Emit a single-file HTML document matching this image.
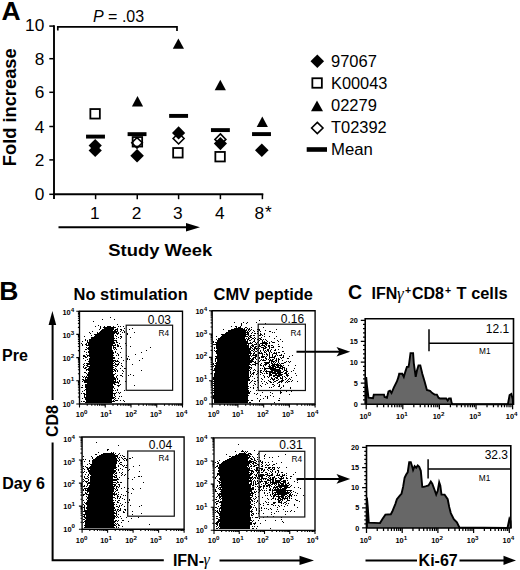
<!DOCTYPE html>
<html><head><meta charset="utf-8"><style>
html,body{margin:0;padding:0;background:#fff;}
svg{display:block;}
text{font-family:"Liberation Sans", sans-serif;fill:#000;}
</style></head><body>
<svg width="520" height="570" viewBox="0 0 520 570">
<rect width="520" height="570" fill="#fff"/>
<text x="1.6" y="19.6" font-size="26.5" font-weight="bold">A</text>
<line x1="54" y1="25.2" x2="54" y2="199" stroke="#000" stroke-width="1.9"/>
<line x1="49.3" y1="26.1" x2="54" y2="26.1" stroke="#000" stroke-width="1.5"/>
<text x="44.3" y="31.4" font-size="17.3" text-anchor="end">10</text>
<line x1="49.3" y1="58.7" x2="54" y2="58.7" stroke="#000" stroke-width="1.5"/>
<text x="44.3" y="64.7" font-size="17.3" text-anchor="end">8</text>
<line x1="49.3" y1="92.3" x2="54" y2="92.3" stroke="#000" stroke-width="1.5"/>
<text x="44.3" y="98.3" font-size="17.3" text-anchor="end">6</text>
<line x1="49.3" y1="126.5" x2="54" y2="126.5" stroke="#000" stroke-width="1.5"/>
<text x="44.3" y="132.5" font-size="17.3" text-anchor="end">4</text>
<line x1="49.3" y1="159.9" x2="54" y2="159.9" stroke="#000" stroke-width="1.5"/>
<text x="44.3" y="165.9" font-size="17.3" text-anchor="end">2</text>
<line x1="49.3" y1="194.3" x2="54" y2="194.3" stroke="#000" stroke-width="1.5"/>
<text x="44.3" y="200.3" font-size="17.3" text-anchor="end">0</text>
<line x1="53" y1="194.2" x2="263.3" y2="194.2" stroke="#000" stroke-width="2"/>
<line x1="95.6" y1="194" x2="95.6" y2="199.2" stroke="#000" stroke-width="1.5"/>
<line x1="137.25" y1="194" x2="137.25" y2="199.2" stroke="#000" stroke-width="1.5"/>
<line x1="178.6" y1="194" x2="178.6" y2="199.2" stroke="#000" stroke-width="1.5"/>
<line x1="220.4" y1="194" x2="220.4" y2="199.2" stroke="#000" stroke-width="1.5"/>
<line x1="262.4" y1="194" x2="262.4" y2="199.2" stroke="#000" stroke-width="1.5"/>
<text x="94.9" y="218.7" font-size="17.3" text-anchor="middle">1</text>
<text x="136.55" y="218.7" font-size="17.3" text-anchor="middle">2</text>
<text x="177.9" y="218.7" font-size="17.3" text-anchor="middle">3</text>
<text x="219.7" y="218.7" font-size="17.3" text-anchor="middle">4</text>
<text x="254.5" y="218.9" font-size="17.3">8<tspan dx="0.8" dy="-0.9">*</tspan></text>
<line x1="58.5" y1="227.2" x2="188" y2="227.2" stroke="#000" stroke-width="2"/>
<path d="M186 222.9 L200 227.2 L186 231.5 Z" fill="#000"/>
<text x="108.3" y="256.2" font-size="17.2" font-weight="bold" textLength="104" lengthAdjust="spacingAndGlyphs">Study Week</text>
<text transform="translate(16.3,166.2) rotate(-90)" font-size="18.3" font-weight="bold">Fold increase</text>
<path d="M57.8 30.6 V26.8 H177 V31" fill="none" stroke="#000" stroke-width="1.7"/>
<text x="93" y="22.4" font-size="16"><tspan font-style="italic">P</tspan> = .03</text>
<rect x="90.35" y="109.05" width="9.5" height="9.5" fill="#fff" stroke="#000" stroke-width="1.8"/>
<rect x="86.05" y="134.65" width="18.9" height="3.9" fill="#000"/>
<path d="M95.2 139 L101.8 145.6 L95.2 152.2 L88.6 145.6 Z" fill="#000"/>
<path d="M95.2 143.9 L101.8 150.5 L95.2 157.1 L88.6 150.5 Z" fill="#000"/>
<path d="M137.5 96.1 L143.1 106.6 L131.9 106.6 Z" fill="#000"/>
<rect x="127.6" y="132.2" width="18.9" height="3.9" fill="#000"/>
<rect x="132.65" y="137.05" width="9.5" height="9.5" fill="#fff" stroke="#000" stroke-width="1.8"/>
<path d="M137 137.6 L142.3 142.7 L137 148 L131.8 142.7 Z" fill="none" stroke="#000" stroke-width="1.6"/>
<path d="M137.1 148.9 L143.9 155.7 L137.1 162.5 L130.3 155.7 Z" fill="#000"/>
<path d="M178.4 38.4 L184 48.75 L172.8 48.75 Z" fill="#000"/>
<rect x="169.15" y="113.95" width="18.9" height="3.9" fill="#000"/>
<path d="M178.6 133.02 L184.08 138.5 L178.6 143.98 L173.12 138.5 Z" fill="#fff" stroke="#000" stroke-width="1.6"/>
<path d="M178.6 126.3 L185.2 132.9 L178.6 139.5 L172 132.9 Z" fill="#000"/>
<rect x="173.15" y="148.05" width="9.5" height="9.5" fill="#fff" stroke="#000" stroke-width="1.8"/>
<path d="M220.3 79.7 L225.9 90.3 L214.7 90.3 Z" fill="#000"/>
<rect x="210.95" y="128.15" width="18.9" height="3.9" fill="#000"/>
<path d="M220.4 133.92 L225.88 139.4 L220.4 144.88 L214.92 139.4 Z" fill="#fff" stroke="#000" stroke-width="1.6"/>
<path d="M220.4 137 L227 143.6 L220.4 150.2 L213.8 143.6 Z" fill="#000"/>
<rect x="215.35" y="151.95" width="9.5" height="9.5" fill="#fff" stroke="#000" stroke-width="1.8"/>
<path d="M262.3 116.6 L267.9 126.9 L256.7 126.9 Z" fill="#000"/>
<rect x="252.05" y="132.15" width="18.9" height="3.9" fill="#000"/>
<path d="M261.8 143.4 L268.6 150.2 L261.8 157 L255 150.2 Z" fill="#000"/>
<path d="M317.3 54.4 L324.1 61.2 L317.3 68 L310.5 61.2 Z" fill="#000"/>
<text x="331" y="66.9" font-size="16" textLength="45.9" lengthAdjust="spacingAndGlyphs">97067</text>
<rect x="312.35" y="78.25" width="9.5" height="9.5" fill="#fff" stroke="#000" stroke-width="1.8"/>
<text x="331" y="88.6" font-size="16" textLength="56.4" lengthAdjust="spacingAndGlyphs">K00043</text>
<path d="M317 100.6 L323 111.2 L311 111.2 Z" fill="#000"/>
<text x="331" y="110.9" font-size="16" textLength="45.9" lengthAdjust="spacingAndGlyphs">02279</text>
<path d="M317.3 122.32 L322.98 128 L317.3 133.68 L311.62 128 Z" fill="#fff" stroke="#000" stroke-width="1.6"/>
<text x="331" y="132.9" font-size="16" textLength="55.7" lengthAdjust="spacingAndGlyphs">T02392</text>
<rect x="306.7" y="147.2" width="20.3" height="4.6" fill="#000"/>
<text x="331" y="155.4" font-size="16" textLength="41.8" lengthAdjust="spacingAndGlyphs">Mean</text>
<text x="-0.7" y="299.9" font-size="26.5" font-weight="bold">B</text>
<text x="73.5" y="300" font-size="16" font-weight="bold" textLength="114.2" lengthAdjust="spacingAndGlyphs">No stimulation</text>
<text x="213.6" y="299.8" font-size="16" font-weight="bold" textLength="99.3" lengthAdjust="spacingAndGlyphs">CMV peptide</text>
<text x="2" y="361.3" font-size="16" font-weight="bold">Pre</text>
<text x="2.3" y="488.6" font-size="16" font-weight="bold">Day 6</text>
<path d="M52.4 311 L56.2 325 L48.6 325 Z" fill="#000"/>
<line x1="52.6" y1="323" x2="52.6" y2="400" stroke="#000" stroke-width="2"/>
<text transform="translate(58.3,437) rotate(-90)" font-size="16" font-weight="bold">CD8</text>
<path d="M52.6 442.6 V560.3 H163.8" fill="none" stroke="#000" stroke-width="2"/>
<text x="172.9" y="565.6" font-size="16" font-weight="bold">IFN-</text>
<text x="203.4" y="565.2" font-size="16" font-style="italic" style="font-family:'Liberation Serif', serif">&#947;</text>
<line x1="219.5" y1="560.4" x2="302" y2="560.4" stroke="#000" stroke-width="2"/>
<path d="M299.5 555.8 L314 560.4 L299.5 565 Z" fill="#000"/>
<text x="348" y="298.7" font-size="19.5" font-weight="bold">C</text>
<text x="371.5" y="299.2" font-size="16" font-weight="bold">IFN</text>
<text x="397.1" y="298.5" font-size="17" font-family="Liberation Serif" font-style="italic" style="font-family:'Liberation Serif', serif">&#947;</text>
<text x="404.9" y="293.6" font-size="10.5" font-weight="bold">+</text>
<text x="411.9" y="299.3" font-size="16" font-weight="bold">CD8</text>
<text x="444.9" y="293.6" font-size="10.5" font-weight="bold">+</text>
<text x="456.6" y="299.3" font-size="16" font-weight="bold" textLength="51" lengthAdjust="spacingAndGlyphs">T cells</text>
<line x1="365.5" y1="560.4" x2="417" y2="560.4" stroke="#000" stroke-width="2"/>
<text x="418.6" y="565.8" font-size="16" font-weight="bold">Ki-67</text>
<line x1="459.5" y1="560.4" x2="506" y2="560.4" stroke="#000" stroke-width="2"/>
<path d="M503.5 555.8 L516 560.4 L503.5 565 Z" fill="#000"/>
<line x1="296.5" y1="351.8" x2="340" y2="351.8" stroke="#000" stroke-width="2"/>
<path d="M350.2 351.8 L336.5 347 L339.5 351.8 L336.5 356.6 Z" fill="#000"/>
<line x1="296.5" y1="478.9" x2="340" y2="478.9" stroke="#000" stroke-width="2"/>
<path d="M350.2 478.9 L336.5 474.1 L339.5 478.9 L336.5 483.7 Z" fill="#000"/>
<path d="M110 317h1v1h-1zM102 319h1v1h-1zM114 319h1v1h-1zM93 321h1v1h-1zM117 324h1v1h-1zM98 325h1v1h-1zM95 326h1v1h-1zM100 326h1v1h-1zM104 326h1v1h-1zM107 326h4v1h-4zM113 326h1v1h-1zM118 326h1v1h-1zM120 326h1v1h-1zM123 326h1v1h-1zM100 327h1v1h-1zM103 327h13v1h-13zM100 328h1v1h-1zM104 328h10v1h-10zM117 328h1v1h-1zM124 328h1v1h-1zM132 328h1v1h-1zM99 329h1v1h-1zM102 329h12v1h-12zM115 329h3v1h-3zM120 329h2v1h-2zM129 329h1v1h-1zM101 330h12v1h-12zM114 330h2v1h-2zM117 330h1v1h-1zM121 330h1v1h-1zM123 330h1v1h-1zM92 331h1v1h-1zM100 331h18v1h-18zM120 331h1v1h-1zM124 331h1v1h-1zM89 332h1v1h-1zM97 332h1v1h-1zM99 332h18v1h-18zM118 332h1v1h-1zM122 332h1v1h-1zM124 332h1v1h-1zM134 332h1v1h-1zM90 333h1v1h-1zM97 333h18v1h-18zM116 333h3v1h-3zM127 333h1v1h-1zM94 334h20v1h-20zM117 334h1v1h-1zM120 334h1v1h-1zM127 334h1v1h-1zM91 335h1v1h-1zM95 335h19v1h-19zM115 335h1v1h-1zM84 336h1v1h-1zM94 336h20v1h-20zM116 336h1v1h-1zM120 336h2v1h-2zM91 337h23v1h-23zM118 337h1v1h-1zM121 337h1v1h-1zM130 337h1v1h-1zM91 338h24v1h-24zM116 338h1v1h-1zM120 338h1v1h-1zM85 339h1v1h-1zM89 339h25v1h-25zM85 340h1v1h-1zM87 340h1v1h-1zM89 340h28v1h-28zM82 341h1v1h-1zM87 341h1v1h-1zM89 341h25v1h-25zM116 341h1v1h-1zM87 342h28v1h-28zM116 342h2v1h-2zM81 343h1v1h-1zM86 343h1v1h-1zM88 343h27v1h-27zM119 343h1v1h-1zM125 343h1v1h-1zM82 344h1v1h-1zM85 344h2v1h-2zM88 344h25v1h-25zM115 344h1v1h-1zM117 344h1v1h-1zM82 345h1v1h-1zM86 345h30v1h-30zM117 345h2v1h-2zM126 345h1v1h-1zM89 346h23v1h-23zM113 346h1v1h-1zM117 346h2v1h-2zM120 346h1v1h-1zM130 346h1v1h-1zM86 347h1v1h-1zM88 347h24v1h-24zM113 347h3v1h-3zM150 347h1v1h-1zM87 348h25v1h-25zM113 348h1v1h-1zM115 348h1v1h-1zM121 348h1v1h-1zM85 349h2v1h-2zM88 349h24v1h-24zM114 349h1v1h-1zM116 349h1v1h-1zM89 350h24v1h-24zM146 350h1v1h-1zM84 351h1v1h-1zM88 351h25v1h-25zM115 351h1v1h-1zM86 352h1v1h-1zM88 352h26v1h-26zM115 352h1v1h-1zM120 352h1v1h-1zM141 352h1v1h-1zM89 353h25v1h-25zM117 353h1v1h-1zM86 354h1v1h-1zM89 354h24v1h-24zM118 354h1v1h-1zM135 354h1v1h-1zM83 355h2v1h-2zM87 355h27v1h-27zM116 355h1v1h-1zM118 355h1v1h-1zM126 355h1v1h-1zM83 356h3v1h-3zM87 356h1v1h-1zM89 356h24v1h-24zM128 356h1v1h-1zM85 357h2v1h-2zM90 357h25v1h-25zM121 357h1v1h-1zM83 358h1v1h-1zM89 358h26v1h-26zM118 358h1v1h-1zM127 358h1v1h-1zM142 358h1v1h-1zM87 359h1v1h-1zM89 359h24v1h-24zM127 359h1v1h-1zM129 359h1v1h-1zM85 360h1v1h-1zM89 360h27v1h-27zM117 360h1v1h-1zM123 360h1v1h-1zM139 360h1v1h-1zM88 361h26v1h-26zM115 361h4v1h-4zM126 361h1v1h-1zM89 362h24v1h-24zM114 362h1v1h-1zM119 362h1v1h-1zM84 363h1v1h-1zM86 363h28v1h-28zM115 363h1v1h-1zM118 363h1v1h-1zM121 363h1v1h-1zM83 364h1v1h-1zM87 364h26v1h-26zM115 364h4v1h-4zM132 364h1v1h-1zM84 365h1v1h-1zM86 365h2v1h-2zM90 365h25v1h-25zM117 365h1v1h-1zM121 365h1v1h-1zM83 366h1v1h-1zM87 366h26v1h-26zM115 366h2v1h-2zM122 366h1v1h-1zM83 367h1v1h-1zM85 367h2v1h-2zM89 367h25v1h-25zM84 368h2v1h-2zM88 368h25v1h-25zM115 368h1v1h-1zM120 368h1v1h-1zM124 368h2v1h-2zM86 369h29v1h-29zM116 369h1v1h-1zM86 370h1v1h-1zM88 370h25v1h-25zM114 370h2v1h-2zM117 370h1v1h-1zM122 370h1v1h-1zM141 370h1v1h-1zM89 371h25v1h-25zM115 371h1v1h-1zM117 371h1v1h-1zM123 371h1v1h-1zM84 372h2v1h-2zM88 372h25v1h-25zM86 373h1v1h-1zM88 373h25v1h-25zM115 373h1v1h-1zM122 373h1v1h-1zM87 374h28v1h-28zM130 374h1v1h-1zM87 375h27v1h-27zM117 375h1v1h-1zM120 375h2v1h-2zM128 375h1v1h-1zM133 375h1v1h-1zM82 376h1v1h-1zM84 376h1v1h-1zM86 376h1v1h-1zM88 376h26v1h-26zM116 376h1v1h-1zM122 376h1v1h-1zM83 377h1v1h-1zM85 377h30v1h-30zM116 377h1v1h-1zM85 378h1v1h-1zM87 378h29v1h-29zM117 378h1v1h-1zM82 379h2v1h-2zM85 379h31v1h-31zM117 379h1v1h-1zM83 380h31v1h-31zM115 380h1v1h-1zM119 380h1v1h-1zM82 381h1v1h-1zM84 381h32v1h-32zM117 381h1v1h-1zM119 381h1v1h-1zM125 381h1v1h-1zM84 382h35v1h-35zM87 383h28v1h-28zM118 383h1v1h-1zM85 384h28v1h-28zM114 384h2v1h-2zM120 384h1v1h-1zM82 385h1v1h-1zM85 385h28v1h-28zM117 385h3v1h-3zM134 385h1v1h-1zM85 386h29v1h-29zM118 386h1v1h-1zM81 387h2v1h-2zM85 387h29v1h-29zM86 388h27v1h-27zM114 388h1v1h-1zM85 389h28v1h-28zM117 389h1v1h-1zM84 390h1v1h-1zM86 390h28v1h-28zM115 390h1v1h-1zM117 390h1v1h-1zM124 390h1v1h-1zM82 391h1v1h-1zM86 391h27v1h-27zM86 392h27v1h-27zM116 392h1v1h-1zM118 392h1v1h-1zM120 392h1v1h-1zM81 393h1v1h-1zM83 393h2v1h-2zM86 393h30v1h-30zM119 393h1v1h-1zM84 394h29v1h-29zM114 394h1v1h-1zM84 395h1v1h-1zM86 395h27v1h-27zM114 395h1v1h-1zM84 396h1v1h-1zM86 396h27v1h-27zM115 396h1v1h-1zM119 396h1v1h-1zM121 396h1v1h-1zM84 397h31v1h-31zM82 398h1v1h-1zM85 398h29v1h-29zM115 398h1v1h-1zM118 398h1v1h-1zM85 399h27v1h-27zM114 399h1v1h-1zM86 400h26v1h-26zM113 400h1v1h-1zM115 400h3v1h-3zM120 400h1v1h-1zM123 400h1v1h-1zM81 401h1v1h-1zM83 401h2v1h-2zM86 401h29v1h-29zM124 401h1v1h-1zM85 402h27v1h-27z" fill="#000"/>
<path d="M259 320h1v1h-1zM234 322h1v1h-1zM243 322h1v1h-1zM247 322h1v1h-1zM256 322h1v1h-1zM241 323h1v1h-1zM246 323h1v1h-1zM265 323h1v1h-1zM241 324h1v1h-1zM241 325h1v1h-1zM231 326h1v1h-1zM235 326h2v1h-2zM240 326h1v1h-1zM236 327h1v1h-1zM238 327h3v1h-3zM245 327h2v1h-2zM251 327h1v1h-1zM263 327h1v1h-1zM234 328h9v1h-9zM244 328h1v1h-1zM247 328h1v1h-1zM249 328h1v1h-1zM223 329h1v1h-1zM231 329h14v1h-14zM246 329h1v1h-1zM248 329h2v1h-2zM251 329h1v1h-1zM257 329h3v1h-3zM276 329h1v1h-1zM228 330h19v1h-19zM248 330h1v1h-1zM250 330h1v1h-1zM253 330h1v1h-1zM259 330h1v1h-1zM265 330h1v1h-1zM228 331h18v1h-18zM247 331h1v1h-1zM249 331h1v1h-1zM254 331h1v1h-1zM257 331h1v1h-1zM260 331h1v1h-1zM269 331h2v1h-2zM226 332h23v1h-23zM252 332h1v1h-1zM272 332h1v1h-1zM274 332h1v1h-1zM225 333h21v1h-21zM247 333h2v1h-2zM251 333h1v1h-1zM254 333h2v1h-2zM257 333h1v1h-1zM260 333h1v1h-1zM264 333h1v1h-1zM221 334h28v1h-28zM260 334h2v1h-2zM264 334h1v1h-1zM222 335h24v1h-24zM248 335h1v1h-1zM250 335h2v1h-2zM253 335h2v1h-2zM259 335h2v1h-2zM262 335h1v1h-1zM216 336h1v1h-1zM221 336h27v1h-27zM249 336h2v1h-2zM264 336h1v1h-1zM269 336h1v1h-1zM276 336h1v1h-1zM220 337h25v1h-25zM248 337h1v1h-1zM250 337h2v1h-2zM254 337h1v1h-1zM261 337h1v1h-1zM218 338h27v1h-27zM246 338h1v1h-1zM248 338h2v1h-2zM252 338h2v1h-2zM255 338h1v1h-1zM259 338h2v1h-2zM274 338h1v1h-1zM216 339h1v1h-1zM218 339h28v1h-28zM247 339h2v1h-2zM251 339h1v1h-1zM254 339h1v1h-1zM257 339h2v1h-2zM260 339h2v1h-2zM263 339h1v1h-1zM265 339h1v1h-1zM280 339h1v1h-1zM217 340h29v1h-29zM247 340h1v1h-1zM249 340h2v1h-2zM254 340h1v1h-1zM259 340h1v1h-1zM262 340h1v1h-1zM266 340h1v1h-1zM277 340h1v1h-1zM213 341h1v1h-1zM217 341h31v1h-31zM253 341h2v1h-2zM258 341h1v1h-1zM262 341h1v1h-1zM264 341h1v1h-1zM267 341h1v1h-1zM271 341h1v1h-1zM278 341h1v1h-1zM282 341h1v1h-1zM213 342h1v1h-1zM215 342h33v1h-33zM250 342h1v1h-1zM252 342h1v1h-1zM255 342h1v1h-1zM257 342h1v1h-1zM262 342h5v1h-5zM269 342h1v1h-1zM272 342h3v1h-3zM216 343h36v1h-36zM256 343h1v1h-1zM260 343h8v1h-8zM269 343h1v1h-1zM213 344h34v1h-34zM248 344h1v1h-1zM252 344h1v1h-1zM254 344h3v1h-3zM259 344h1v1h-1zM262 344h1v1h-1zM265 344h2v1h-2zM278 344h1v1h-1zM216 345h33v1h-33zM251 345h3v1h-3zM259 345h1v1h-1zM261 345h4v1h-4zM266 345h1v1h-1zM268 345h2v1h-2zM271 345h2v1h-2zM216 346h33v1h-33zM250 346h1v1h-1zM252 346h2v1h-2zM255 346h2v1h-2zM258 346h3v1h-3zM264 346h2v1h-2zM268 346h2v1h-2zM273 346h1v1h-1zM278 346h2v1h-2zM214 347h1v1h-1zM216 347h33v1h-33zM250 347h2v1h-2zM254 347h2v1h-2zM258 347h1v1h-1zM261 347h3v1h-3zM265 347h2v1h-2zM269 347h1v1h-1zM271 347h3v1h-3zM282 347h1v1h-1zM214 348h1v1h-1zM216 348h35v1h-35zM252 348h1v1h-1zM254 348h4v1h-4zM259 348h1v1h-1zM263 348h3v1h-3zM269 348h1v1h-1zM217 349h34v1h-34zM253 349h2v1h-2zM256 349h1v1h-1zM258 349h1v1h-1zM263 349h1v1h-1zM267 349h2v1h-2zM271 349h1v1h-1zM275 349h1v1h-1zM278 349h1v1h-1zM214 350h1v1h-1zM216 350h34v1h-34zM251 350h2v1h-2zM254 350h1v1h-1zM257 350h1v1h-1zM260 350h1v1h-1zM263 350h1v1h-1zM265 350h1v1h-1zM267 350h2v1h-2zM270 350h1v1h-1zM274 350h2v1h-2zM215 351h36v1h-36zM253 351h1v1h-1zM255 351h2v1h-2zM260 351h1v1h-1zM264 351h1v1h-1zM266 351h1v1h-1zM268 351h1v1h-1zM270 351h1v1h-1zM282 351h2v1h-2zM216 352h35v1h-35zM254 352h1v1h-1zM258 352h2v1h-2zM261 352h1v1h-1zM264 352h2v1h-2zM269 352h1v1h-1zM271 352h1v1h-1zM274 352h1v1h-1zM276 352h1v1h-1zM278 352h2v1h-2zM216 353h36v1h-36zM253 353h2v1h-2zM258 353h5v1h-5zM266 353h1v1h-1zM269 353h1v1h-1zM273 353h4v1h-4zM284 353h1v1h-1zM217 354h32v1h-32zM250 354h1v1h-1zM253 354h1v1h-1zM255 354h2v1h-2zM262 354h1v1h-1zM264 354h1v1h-1zM266 354h2v1h-2zM269 354h1v1h-1zM272 354h1v1h-1zM276 354h1v1h-1zM281 354h1v1h-1zM217 355h34v1h-34zM252 355h5v1h-5zM258 355h1v1h-1zM262 355h1v1h-1zM267 355h1v1h-1zM269 355h1v1h-1zM272 355h1v1h-1zM275 355h1v1h-1zM277 355h1v1h-1zM279 355h3v1h-3zM283 355h1v1h-1zM292 355h1v1h-1zM215 356h35v1h-35zM251 356h1v1h-1zM255 356h2v1h-2zM261 356h4v1h-4zM266 356h1v1h-1zM269 356h1v1h-1zM272 356h1v1h-1zM274 356h2v1h-2zM283 356h1v1h-1zM289 356h1v1h-1zM216 357h34v1h-34zM253 357h3v1h-3zM259 357h1v1h-1zM261 357h3v1h-3zM265 357h1v1h-1zM269 357h6v1h-6zM280 357h1v1h-1zM282 357h2v1h-2zM215 358h36v1h-36zM252 358h2v1h-2zM255 358h1v1h-1zM259 358h1v1h-1zM265 358h2v1h-2zM269 358h1v1h-1zM274 358h1v1h-1zM276 358h1v1h-1zM278 358h1v1h-1zM281 358h1v1h-1zM287 358h2v1h-2zM215 359h1v1h-1zM217 359h33v1h-33zM251 359h3v1h-3zM256 359h1v1h-1zM261 359h1v1h-1zM263 359h1v1h-1zM266 359h1v1h-1zM268 359h1v1h-1zM270 359h1v1h-1zM272 359h2v1h-2zM276 359h1v1h-1zM278 359h2v1h-2zM215 360h1v1h-1zM217 360h36v1h-36zM258 360h1v1h-1zM260 360h1v1h-1zM262 360h4v1h-4zM269 360h4v1h-4zM275 360h2v1h-2zM278 360h1v1h-1zM282 360h1v1h-1zM215 361h1v1h-1zM217 361h37v1h-37zM255 361h1v1h-1zM259 361h1v1h-1zM269 361h1v1h-1zM271 361h4v1h-4zM276 361h1v1h-1zM278 361h1v1h-1zM286 361h1v1h-1zM288 361h1v1h-1zM290 361h1v1h-1zM216 362h36v1h-36zM254 362h2v1h-2zM258 362h1v1h-1zM264 362h6v1h-6zM271 362h1v1h-1zM273 362h1v1h-1zM275 362h1v1h-1zM278 362h1v1h-1zM284 362h2v1h-2zM289 362h1v1h-1zM213 363h1v1h-1zM215 363h35v1h-35zM255 363h3v1h-3zM261 363h1v1h-1zM265 363h4v1h-4zM271 363h2v1h-2zM274 363h1v1h-1zM277 363h1v1h-1zM279 363h1v1h-1zM281 363h3v1h-3zM213 364h1v1h-1zM216 364h35v1h-35zM252 364h4v1h-4zM258 364h1v1h-1zM260 364h1v1h-1zM264 364h3v1h-3zM269 364h1v1h-1zM272 364h7v1h-7zM280 364h1v1h-1zM214 365h35v1h-35zM251 365h1v1h-1zM255 365h1v1h-1zM260 365h2v1h-2zM263 365h1v1h-1zM265 365h1v1h-1zM269 365h1v1h-1zM271 365h4v1h-4zM276 365h6v1h-6zM283 365h1v1h-1zM288 365h1v1h-1zM295 365h1v1h-1zM213 366h1v1h-1zM215 366h35v1h-35zM263 366h1v1h-1zM268 366h3v1h-3zM272 366h4v1h-4zM277 366h2v1h-2zM280 366h3v1h-3zM215 367h37v1h-37zM264 367h1v1h-1zM269 367h5v1h-5zM275 367h6v1h-6zM282 367h3v1h-3zM214 368h36v1h-36zM251 368h1v1h-1zM260 368h1v1h-1zM262 368h1v1h-1zM264 368h12v1h-12zM279 368h4v1h-4zM284 368h1v1h-1zM286 368h1v1h-1zM294 368h1v1h-1zM214 369h35v1h-35zM250 369h1v1h-1zM254 369h1v1h-1zM264 369h2v1h-2zM270 369h10v1h-10zM282 369h1v1h-1zM284 369h1v1h-1zM286 369h1v1h-1zM213 370h37v1h-37zM253 370h1v1h-1zM255 370h1v1h-1zM258 370h1v1h-1zM260 370h2v1h-2zM264 370h1v1h-1zM266 370h1v1h-1zM271 370h10v1h-10zM284 370h3v1h-3zM293 370h1v1h-1zM215 371h34v1h-34zM250 371h1v1h-1zM257 371h1v1h-1zM260 371h1v1h-1zM263 371h1v1h-1zM265 371h8v1h-8zM274 371h7v1h-7zM283 371h1v1h-1zM286 371h2v1h-2zM291 371h1v1h-1zM215 372h34v1h-34zM250 372h1v1h-1zM253 372h2v1h-2zM258 372h1v1h-1zM260 372h2v1h-2zM266 372h1v1h-1zM269 372h7v1h-7zM277 372h6v1h-6zM285 372h2v1h-2zM214 373h35v1h-35zM250 373h1v1h-1zM252 373h2v1h-2zM257 373h1v1h-1zM262 373h1v1h-1zM264 373h1v1h-1zM266 373h2v1h-2zM269 373h2v1h-2zM272 373h9v1h-9zM284 373h3v1h-3zM288 373h1v1h-1zM295 373h1v1h-1zM214 374h35v1h-35zM251 374h1v1h-1zM253 374h1v1h-1zM256 374h1v1h-1zM260 374h1v1h-1zM269 374h3v1h-3zM275 374h2v1h-2zM278 374h5v1h-5zM286 374h2v1h-2zM214 375h35v1h-35zM250 375h1v1h-1zM263 375h1v1h-1zM269 375h3v1h-3zM273 375h9v1h-9zM286 375h3v1h-3zM296 375h1v1h-1zM214 376h35v1h-35zM250 376h1v1h-1zM252 376h1v1h-1zM264 376h1v1h-1zM267 376h1v1h-1zM269 376h1v1h-1zM273 376h2v1h-2zM277 376h3v1h-3zM282 376h1v1h-1zM284 376h1v1h-1zM287 376h1v1h-1zM213 377h37v1h-37zM257 377h1v1h-1zM264 377h1v1h-1zM268 377h1v1h-1zM271 377h1v1h-1zM275 377h3v1h-3zM280 377h1v1h-1zM282 377h1v1h-1zM285 377h1v1h-1zM291 377h1v1h-1zM213 378h36v1h-36zM254 378h1v1h-1zM261 378h1v1h-1zM271 378h2v1h-2zM274 378h1v1h-1zM276 378h2v1h-2zM280 378h3v1h-3zM286 378h1v1h-1zM289 378h1v1h-1zM213 379h37v1h-37zM262 379h1v1h-1zM270 379h1v1h-1zM272 379h3v1h-3zM278 379h1v1h-1zM282 379h1v1h-1zM285 379h1v1h-1zM288 379h1v1h-1zM290 379h1v1h-1zM214 380h36v1h-36zM252 380h1v1h-1zM257 380h1v1h-1zM268 380h1v1h-1zM273 380h1v1h-1zM276 380h2v1h-2zM281 380h3v1h-3zM287 380h1v1h-1zM292 380h1v1h-1zM213 381h35v1h-35zM251 381h1v1h-1zM254 381h2v1h-2zM261 381h1v1h-1zM264 381h1v1h-1zM269 381h2v1h-2zM274 381h2v1h-2zM279 381h4v1h-4zM286 381h1v1h-1zM288 381h2v1h-2zM291 381h1v1h-1zM297 381h1v1h-1zM214 382h34v1h-34zM250 382h1v1h-1zM258 382h1v1h-1zM266 382h1v1h-1zM270 382h2v1h-2zM273 382h1v1h-1zM278 382h2v1h-2zM281 382h1v1h-1zM285 382h1v1h-1zM287 382h1v1h-1zM213 383h35v1h-35zM249 383h1v1h-1zM254 383h1v1h-1zM262 383h1v1h-1zM267 383h1v1h-1zM277 383h1v1h-1zM214 384h34v1h-34zM255 384h1v1h-1zM265 384h1v1h-1zM272 384h2v1h-2zM279 384h1v1h-1zM213 385h35v1h-35zM253 385h1v1h-1zM260 385h1v1h-1zM274 385h1v1h-1zM279 385h1v1h-1zM283 385h1v1h-1zM214 386h35v1h-35zM261 386h1v1h-1zM273 386h1v1h-1zM278 386h2v1h-2zM283 386h1v1h-1zM214 387h34v1h-34zM250 387h1v1h-1zM253 387h1v1h-1zM257 387h1v1h-1zM269 387h1v1h-1zM271 387h1v1h-1zM281 387h1v1h-1zM290 387h1v1h-1zM213 388h36v1h-36zM253 388h1v1h-1zM280 388h1v1h-1zM290 388h1v1h-1zM214 389h34v1h-34zM213 390h36v1h-36zM256 390h1v1h-1zM263 390h1v1h-1zM265 390h1v1h-1zM269 390h1v1h-1zM277 390h1v1h-1zM281 390h1v1h-1zM214 391h35v1h-35zM250 391h1v1h-1zM280 391h1v1h-1zM286 391h1v1h-1zM291 391h1v1h-1zM213 392h37v1h-37zM262 392h1v1h-1zM270 392h1v1h-1zM280 392h2v1h-2zM214 393h36v1h-36zM254 393h1v1h-1zM257 393h1v1h-1zM272 393h1v1h-1zM280 393h1v1h-1zM214 394h34v1h-34zM256 394h1v1h-1zM289 394h1v1h-1zM213 395h36v1h-36zM260 395h1v1h-1zM270 395h1v1h-1zM213 396h35v1h-35zM265 396h1v1h-1zM267 396h1v1h-1zM273 396h1v1h-1zM213 397h35v1h-35zM267 397h1v1h-1zM213 398h35v1h-35zM257 398h1v1h-1zM263 398h1v1h-1zM267 398h1v1h-1zM279 398h1v1h-1zM214 399h34v1h-34zM260 399h1v1h-1zM214 400h35v1h-35zM251 400h2v1h-2zM259 400h1v1h-1zM278 400h2v1h-2zM214 401h34v1h-34zM259 401h1v1h-1zM214 402h34v1h-34zM249 402h2v1h-2zM274 402h1v1h-1z" fill="#000"/>
<path d="M96 442h1v1h-1zM118 445h1v1h-1zM107 449h2v1h-2zM107 450h1v1h-1zM98 452h1v1h-1zM111 452h1v1h-1zM113 452h1v1h-1zM103 453h11v1h-11zM115 453h1v1h-1zM119 453h1v1h-1zM95 454h2v1h-2zM101 454h14v1h-14zM118 454h1v1h-1zM99 455h19v1h-19zM120 455h1v1h-1zM122 455h1v1h-1zM83 456h1v1h-1zM91 456h1v1h-1zM97 456h21v1h-21zM123 456h2v1h-2zM92 457h1v1h-1zM96 457h20v1h-20zM117 457h1v1h-1zM119 457h1v1h-1zM121 457h1v1h-1zM132 457h1v1h-1zM92 458h1v1h-1zM95 458h22v1h-22zM118 458h1v1h-1zM122 458h1v1h-1zM124 458h2v1h-2zM129 458h2v1h-2zM83 459h1v1h-1zM85 459h1v1h-1zM93 459h24v1h-24zM119 459h1v1h-1zM123 459h1v1h-1zM126 459h2v1h-2zM89 460h1v1h-1zM92 460h26v1h-26zM119 460h1v1h-1zM124 460h1v1h-1zM126 460h1v1h-1zM84 461h1v1h-1zM89 461h1v1h-1zM92 461h25v1h-25zM118 461h1v1h-1zM127 461h1v1h-1zM92 462h25v1h-25zM120 462h2v1h-2zM89 463h1v1h-1zM92 463h25v1h-25zM119 463h1v1h-1zM87 464h1v1h-1zM90 464h26v1h-26zM120 464h2v1h-2zM127 464h1v1h-1zM91 465h25v1h-25zM118 465h1v1h-1zM122 465h1v1h-1zM124 465h1v1h-1zM126 465h1v1h-1zM139 465h1v1h-1zM83 466h1v1h-1zM85 466h1v1h-1zM90 466h26v1h-26zM118 466h1v1h-1zM123 466h1v1h-1zM133 466h1v1h-1zM86 467h2v1h-2zM89 467h28v1h-28zM125 467h2v1h-2zM83 468h1v1h-1zM87 468h29v1h-29zM120 468h1v1h-1zM84 469h1v1h-1zM87 469h2v1h-2zM90 469h24v1h-24zM116 469h1v1h-1zM118 469h1v1h-1zM122 469h1v1h-1zM129 469h1v1h-1zM88 470h28v1h-28zM118 470h1v1h-1zM128 470h1v1h-1zM84 471h1v1h-1zM88 471h28v1h-28zM139 471h1v1h-1zM83 472h1v1h-1zM86 472h1v1h-1zM89 472h26v1h-26zM116 472h1v1h-1zM119 472h1v1h-1zM122 472h1v1h-1zM89 473h25v1h-25zM115 473h2v1h-2zM121 473h1v1h-1zM85 474h1v1h-1zM88 474h1v1h-1zM90 474h23v1h-23zM114 474h1v1h-1zM122 474h1v1h-1zM125 474h1v1h-1zM88 475h1v1h-1zM91 475h22v1h-22zM115 475h2v1h-2zM121 475h1v1h-1zM124 475h1v1h-1zM84 476h1v1h-1zM87 476h1v1h-1zM90 476h25v1h-25zM116 476h1v1h-1zM138 476h2v1h-2zM141 476h1v1h-1zM84 477h1v1h-1zM88 477h1v1h-1zM90 477h23v1h-23zM114 477h3v1h-3zM119 477h1v1h-1zM134 477h1v1h-1zM85 478h3v1h-3zM90 478h23v1h-23zM117 478h1v1h-1zM128 478h1v1h-1zM83 479h1v1h-1zM88 479h1v1h-1zM90 479h29v1h-29zM132 479h1v1h-1zM84 480h1v1h-1zM88 480h1v1h-1zM90 480h27v1h-27zM83 481h1v1h-1zM85 481h3v1h-3zM90 481h23v1h-23zM117 481h1v1h-1zM86 482h1v1h-1zM88 482h28v1h-28zM117 482h2v1h-2zM120 482h2v1h-2zM143 482h1v1h-1zM87 483h26v1h-26zM116 483h1v1h-1zM87 484h1v1h-1zM90 484h26v1h-26zM118 484h2v1h-2zM84 485h1v1h-1zM87 485h1v1h-1zM89 485h24v1h-24zM114 485h2v1h-2zM119 485h1v1h-1zM83 486h2v1h-2zM86 486h1v1h-1zM89 486h26v1h-26zM116 486h2v1h-2zM119 486h1v1h-1zM88 487h26v1h-26zM116 487h1v1h-1zM118 487h1v1h-1zM124 487h1v1h-1zM84 488h31v1h-31zM116 488h1v1h-1zM121 488h1v1h-1zM127 488h2v1h-2zM132 488h1v1h-1zM140 488h1v1h-1zM83 489h1v1h-1zM85 489h1v1h-1zM87 489h27v1h-27zM115 489h1v1h-1zM117 489h1v1h-1zM133 489h1v1h-1zM83 490h1v1h-1zM85 490h29v1h-29zM116 490h2v1h-2zM87 491h27v1h-27zM115 491h1v1h-1zM126 491h1v1h-1zM85 492h1v1h-1zM87 492h1v1h-1zM89 492h24v1h-24zM114 492h1v1h-1zM118 492h1v1h-1zM128 492h1v1h-1zM85 493h2v1h-2zM89 493h26v1h-26zM116 493h1v1h-1zM131 493h1v1h-1zM83 494h2v1h-2zM86 494h31v1h-31zM118 494h1v1h-1zM121 494h1v1h-1zM83 495h1v1h-1zM88 495h25v1h-25zM114 495h1v1h-1zM117 495h1v1h-1zM123 495h1v1h-1zM125 495h1v1h-1zM86 496h1v1h-1zM88 496h25v1h-25zM117 496h2v1h-2zM120 496h1v1h-1zM87 497h28v1h-28zM117 497h1v1h-1zM120 497h1v1h-1zM87 498h26v1h-26zM115 498h1v1h-1zM117 498h1v1h-1zM119 498h1v1h-1zM122 498h1v1h-1zM86 499h1v1h-1zM88 499h25v1h-25zM124 499h1v1h-1zM129 499h1v1h-1zM83 500h1v1h-1zM87 500h27v1h-27zM115 500h1v1h-1zM118 500h2v1h-2zM129 500h1v1h-1zM87 501h26v1h-26zM117 501h1v1h-1zM84 502h1v1h-1zM86 502h29v1h-29zM117 502h2v1h-2zM125 502h1v1h-1zM128 502h1v1h-1zM85 503h29v1h-29zM120 503h1v1h-1zM83 504h1v1h-1zM86 504h29v1h-29zM116 504h1v1h-1zM122 504h1v1h-1zM84 505h1v1h-1zM87 505h27v1h-27zM119 505h1v1h-1zM121 505h1v1h-1zM130 505h1v1h-1zM141 505h1v1h-1zM84 506h1v1h-1zM87 506h27v1h-27zM116 506h2v1h-2zM119 506h1v1h-1zM124 506h1v1h-1zM139 506h1v1h-1zM83 507h2v1h-2zM86 507h29v1h-29zM118 507h1v1h-1zM84 508h1v1h-1zM86 508h29v1h-29zM120 508h1v1h-1zM84 509h1v1h-1zM87 509h27v1h-27zM115 509h1v1h-1zM117 509h2v1h-2zM120 509h1v1h-1zM124 509h2v1h-2zM127 509h1v1h-1zM84 510h32v1h-32zM117 510h1v1h-1zM119 510h2v1h-2zM125 510h1v1h-1zM83 511h31v1h-31zM116 511h1v1h-1zM118 511h1v1h-1zM123 511h1v1h-1zM132 511h1v1h-1zM85 512h30v1h-30zM116 512h1v1h-1zM123 512h2v1h-2zM85 513h32v1h-32zM127 513h1v1h-1zM141 513h1v1h-1zM83 514h31v1h-31zM116 514h1v1h-1zM118 514h1v1h-1zM132 514h1v1h-1zM84 515h1v1h-1zM86 515h29v1h-29zM116 515h1v1h-1zM83 516h2v1h-2zM86 516h30v1h-30zM117 516h1v1h-1zM120 516h1v1h-1zM84 517h31v1h-31zM116 517h1v1h-1zM118 517h1v1h-1zM126 517h1v1h-1zM138 517h1v1h-1zM85 518h30v1h-30zM121 518h1v1h-1zM131 518h1v1h-1zM83 519h2v1h-2zM86 519h28v1h-28zM85 520h29v1h-29zM115 520h2v1h-2zM118 520h1v1h-1zM122 520h2v1h-2zM84 521h32v1h-32zM117 521h1v1h-1zM128 521h1v1h-1zM83 522h1v1h-1zM85 522h30v1h-30zM121 522h1v1h-1zM85 523h29v1h-29zM115 523h1v1h-1zM117 523h1v1h-1zM85 524h30v1h-30zM116 524h1v1h-1zM118 524h1v1h-1zM149 524h1v1h-1zM84 525h32v1h-32zM118 525h2v1h-2zM85 526h29v1h-29zM116 526h1v1h-1zM122 526h1v1h-1zM84 527h31v1h-31zM116 527h1v1h-1zM118 527h1v1h-1z" fill="#000"/>
<path d="M238 444h1v1h-1zM242 450h1v1h-1zM254 450h1v1h-1zM235 451h1v1h-1zM241 451h3v1h-3zM245 451h1v1h-1zM247 451h1v1h-1zM244 452h1v1h-1zM246 452h1v1h-1zM239 453h7v1h-7zM248 453h3v1h-3zM258 453h1v1h-1zM226 454h1v1h-1zM236 454h1v1h-1zM238 454h11v1h-11zM250 454h2v1h-2zM257 454h1v1h-1zM265 454h1v1h-1zM285 454h1v1h-1zM235 455h15v1h-15zM264 455h1v1h-1zM229 456h2v1h-2zM232 456h16v1h-16zM249 456h2v1h-2zM252 456h1v1h-1zM264 456h1v1h-1zM278 456h1v1h-1zM231 457h19v1h-19zM253 457h1v1h-1zM257 457h1v1h-1zM259 457h1v1h-1zM269 457h1v1h-1zM272 457h1v1h-1zM229 458h20v1h-20zM250 458h2v1h-2zM254 458h1v1h-1zM264 458h1v1h-1zM227 459h21v1h-21zM251 459h2v1h-2zM254 459h1v1h-1zM257 459h1v1h-1zM219 460h1v1h-1zM225 460h23v1h-23zM249 460h2v1h-2zM254 460h2v1h-2zM260 460h1v1h-1zM217 461h1v1h-1zM223 461h31v1h-31zM256 461h1v1h-1zM258 461h1v1h-1zM260 461h1v1h-1zM262 461h1v1h-1zM272 461h1v1h-1zM215 462h1v1h-1zM218 462h1v1h-1zM222 462h30v1h-30zM253 462h3v1h-3zM261 462h2v1h-2zM265 462h1v1h-1zM268 462h1v1h-1zM281 462h1v1h-1zM217 463h2v1h-2zM221 463h29v1h-29zM252 463h2v1h-2zM255 463h2v1h-2zM262 463h1v1h-1zM276 463h1v1h-1zM219 464h30v1h-30zM250 464h1v1h-1zM253 464h1v1h-1zM257 464h2v1h-2zM261 464h1v1h-1zM266 464h1v1h-1zM269 464h1v1h-1zM273 464h2v1h-2zM217 465h1v1h-1zM219 465h30v1h-30zM251 465h1v1h-1zM254 465h3v1h-3zM258 465h1v1h-1zM262 465h1v1h-1zM265 465h1v1h-1zM267 465h2v1h-2zM272 465h1v1h-1zM216 466h2v1h-2zM219 466h28v1h-28zM248 466h1v1h-1zM250 466h2v1h-2zM253 466h2v1h-2zM261 466h2v1h-2zM215 467h1v1h-1zM218 467h30v1h-30zM249 467h1v1h-1zM256 467h3v1h-3zM265 467h2v1h-2zM268 467h3v1h-3zM272 467h3v1h-3zM277 467h1v1h-1zM279 467h1v1h-1zM286 467h1v1h-1zM218 468h32v1h-32zM251 468h1v1h-1zM256 468h2v1h-2zM259 468h4v1h-4zM268 468h2v1h-2zM272 468h1v1h-1zM274 468h1v1h-1zM278 468h1v1h-1zM219 469h31v1h-31zM254 469h1v1h-1zM256 469h2v1h-2zM261 469h2v1h-2zM264 469h1v1h-1zM267 469h1v1h-1zM270 469h2v1h-2zM273 469h2v1h-2zM218 470h35v1h-35zM255 470h5v1h-5zM261 470h1v1h-1zM263 470h2v1h-2zM268 470h1v1h-1zM272 470h1v1h-1zM277 470h2v1h-2zM218 471h31v1h-31zM251 471h3v1h-3zM256 471h1v1h-1zM258 471h1v1h-1zM263 471h1v1h-1zM270 471h1v1h-1zM272 471h1v1h-1zM275 471h1v1h-1zM278 471h1v1h-1zM219 472h31v1h-31zM251 472h1v1h-1zM253 472h1v1h-1zM257 472h3v1h-3zM261 472h2v1h-2zM265 472h2v1h-2zM271 472h1v1h-1zM275 472h1v1h-1zM278 472h1v1h-1zM281 472h2v1h-2zM295 472h1v1h-1zM217 473h32v1h-32zM250 473h3v1h-3zM257 473h1v1h-1zM267 473h1v1h-1zM269 473h1v1h-1zM272 473h1v1h-1zM277 473h1v1h-1zM286 473h1v1h-1zM217 474h35v1h-35zM254 474h1v1h-1zM256 474h1v1h-1zM258 474h1v1h-1zM260 474h4v1h-4zM265 474h3v1h-3zM271 474h2v1h-2zM277 474h1v1h-1zM279 474h1v1h-1zM282 474h1v1h-1zM284 474h1v1h-1zM293 474h1v1h-1zM217 475h1v1h-1zM219 475h32v1h-32zM255 475h2v1h-2zM258 475h7v1h-7zM267 475h6v1h-6zM276 475h4v1h-4zM282 475h3v1h-3zM286 475h1v1h-1zM216 476h1v1h-1zM220 476h30v1h-30zM252 476h1v1h-1zM256 476h1v1h-1zM258 476h5v1h-5zM266 476h1v1h-1zM269 476h1v1h-1zM274 476h1v1h-1zM280 476h3v1h-3zM290 476h2v1h-2zM215 477h1v1h-1zM220 477h33v1h-33zM254 477h2v1h-2zM257 477h1v1h-1zM259 477h1v1h-1zM261 477h2v1h-2zM268 477h1v1h-1zM270 477h1v1h-1zM272 477h3v1h-3zM278 477h1v1h-1zM281 477h1v1h-1zM283 477h1v1h-1zM286 477h1v1h-1zM215 478h1v1h-1zM219 478h33v1h-33zM253 478h1v1h-1zM255 478h1v1h-1zM257 478h3v1h-3zM261 478h6v1h-6zM269 478h2v1h-2zM272 478h2v1h-2zM275 478h2v1h-2zM279 478h5v1h-5zM286 478h2v1h-2zM290 478h1v1h-1zM219 479h30v1h-30zM250 479h1v1h-1zM252 479h1v1h-1zM260 479h2v1h-2zM263 479h1v1h-1zM265 479h1v1h-1zM267 479h2v1h-2zM270 479h4v1h-4zM275 479h1v1h-1zM280 479h2v1h-2zM217 480h1v1h-1zM220 480h32v1h-32zM254 480h1v1h-1zM257 480h1v1h-1zM261 480h1v1h-1zM267 480h4v1h-4zM272 480h2v1h-2zM275 480h6v1h-6zM283 480h3v1h-3zM287 480h1v1h-1zM297 480h1v1h-1zM218 481h2v1h-2zM221 481h31v1h-31zM253 481h1v1h-1zM255 481h1v1h-1zM257 481h1v1h-1zM259 481h4v1h-4zM264 481h3v1h-3zM270 481h1v1h-1zM272 481h2v1h-2zM275 481h5v1h-5zM281 481h5v1h-5zM294 481h1v1h-1zM219 482h30v1h-30zM251 482h1v1h-1zM253 482h1v1h-1zM255 482h1v1h-1zM258 482h1v1h-1zM260 482h1v1h-1zM265 482h2v1h-2zM268 482h1v1h-1zM270 482h11v1h-11zM283 482h3v1h-3zM288 482h1v1h-1zM297 482h1v1h-1zM219 483h1v1h-1zM221 483h28v1h-28zM250 483h2v1h-2zM253 483h1v1h-1zM255 483h1v1h-1zM257 483h2v1h-2zM263 483h1v1h-1zM265 483h3v1h-3zM270 483h1v1h-1zM272 483h5v1h-5zM278 483h1v1h-1zM280 483h4v1h-4zM285 483h1v1h-1zM287 483h2v1h-2zM220 484h32v1h-32zM253 484h1v1h-1zM255 484h2v1h-2zM261 484h1v1h-1zM265 484h1v1h-1zM268 484h2v1h-2zM271 484h2v1h-2zM274 484h1v1h-1zM276 484h1v1h-1zM278 484h2v1h-2zM281 484h3v1h-3zM285 484h2v1h-2zM289 484h1v1h-1zM217 485h1v1h-1zM219 485h32v1h-32zM252 485h2v1h-2zM259 485h1v1h-1zM263 485h2v1h-2zM266 485h5v1h-5zM275 485h1v1h-1zM278 485h11v1h-11zM291 485h1v1h-1zM217 486h1v1h-1zM221 486h30v1h-30zM255 486h1v1h-1zM257 486h1v1h-1zM259 486h3v1h-3zM263 486h2v1h-2zM266 486h2v1h-2zM269 486h1v1h-1zM271 486h1v1h-1zM274 486h1v1h-1zM276 486h12v1h-12zM290 486h1v1h-1zM216 487h1v1h-1zM219 487h32v1h-32zM252 487h2v1h-2zM258 487h3v1h-3zM263 487h1v1h-1zM269 487h1v1h-1zM273 487h5v1h-5zM279 487h3v1h-3zM284 487h6v1h-6zM294 487h1v1h-1zM298 487h1v1h-1zM218 488h1v1h-1zM220 488h1v1h-1zM222 488h32v1h-32zM259 488h1v1h-1zM263 488h1v1h-1zM266 488h1v1h-1zM270 488h1v1h-1zM273 488h1v1h-1zM275 488h1v1h-1zM277 488h2v1h-2zM280 488h1v1h-1zM282 488h5v1h-5zM300 488h1v1h-1zM215 489h1v1h-1zM219 489h35v1h-35zM255 489h1v1h-1zM258 489h2v1h-2zM261 489h1v1h-1zM269 489h2v1h-2zM272 489h1v1h-1zM274 489h12v1h-12zM215 490h1v1h-1zM221 490h31v1h-31zM259 490h2v1h-2zM262 490h1v1h-1zM264 490h1v1h-1zM266 490h1v1h-1zM269 490h2v1h-2zM272 490h20v1h-20zM215 491h2v1h-2zM220 491h32v1h-32zM254 491h1v1h-1zM256 491h1v1h-1zM259 491h1v1h-1zM272 491h1v1h-1zM276 491h10v1h-10zM287 491h1v1h-1zM290 491h1v1h-1zM293 491h1v1h-1zM221 492h29v1h-29zM251 492h2v1h-2zM254 492h2v1h-2zM258 492h1v1h-1zM264 492h1v1h-1zM269 492h1v1h-1zM272 492h1v1h-1zM274 492h16v1h-16zM291 492h1v1h-1zM295 492h1v1h-1zM217 493h1v1h-1zM219 493h35v1h-35zM264 493h1v1h-1zM267 493h1v1h-1zM272 493h2v1h-2zM275 493h1v1h-1zM277 493h12v1h-12zM290 493h1v1h-1zM297 493h1v1h-1zM218 494h33v1h-33zM252 494h1v1h-1zM255 494h1v1h-1zM270 494h1v1h-1zM272 494h1v1h-1zM274 494h13v1h-13zM289 494h2v1h-2zM292 494h1v1h-1zM218 495h2v1h-2zM221 495h32v1h-32zM265 495h1v1h-1zM267 495h1v1h-1zM270 495h1v1h-1zM273 495h3v1h-3zM278 495h1v1h-1zM281 495h4v1h-4zM287 495h1v1h-1zM289 495h3v1h-3zM294 495h1v1h-1zM296 495h1v1h-1zM303 495h1v1h-1zM217 496h1v1h-1zM219 496h31v1h-31zM252 496h1v1h-1zM255 496h1v1h-1zM258 496h1v1h-1zM271 496h1v1h-1zM273 496h2v1h-2zM276 496h8v1h-8zM285 496h2v1h-2zM288 496h2v1h-2zM291 496h1v1h-1zM216 497h1v1h-1zM219 497h2v1h-2zM222 497h30v1h-30zM256 497h1v1h-1zM262 497h1v1h-1zM273 497h1v1h-1zM278 497h2v1h-2zM281 497h3v1h-3zM285 497h1v1h-1zM287 497h1v1h-1zM289 497h1v1h-1zM219 498h1v1h-1zM221 498h30v1h-30zM253 498h1v1h-1zM255 498h1v1h-1zM267 498h1v1h-1zM272 498h2v1h-2zM275 498h1v1h-1zM278 498h3v1h-3zM282 498h6v1h-6zM289 498h1v1h-1zM291 498h1v1h-1zM215 499h2v1h-2zM220 499h1v1h-1zM222 499h30v1h-30zM254 499h1v1h-1zM268 499h1v1h-1zM271 499h1v1h-1zM275 499h1v1h-1zM277 499h2v1h-2zM280 499h3v1h-3zM284 499h1v1h-1zM287 499h1v1h-1zM295 499h1v1h-1zM218 500h1v1h-1zM222 500h28v1h-28zM251 500h2v1h-2zM257 500h1v1h-1zM278 500h3v1h-3zM282 500h1v1h-1zM287 500h3v1h-3zM296 500h2v1h-2zM216 501h3v1h-3zM220 501h31v1h-31zM252 501h1v1h-1zM254 501h1v1h-1zM257 501h1v1h-1zM265 501h1v1h-1zM278 501h2v1h-2zM281 501h1v1h-1zM286 501h1v1h-1zM299 501h1v1h-1zM215 502h1v1h-1zM219 502h32v1h-32zM256 502h1v1h-1zM266 502h1v1h-1zM268 502h1v1h-1zM273 502h3v1h-3zM278 502h4v1h-4zM284 502h2v1h-2zM216 503h2v1h-2zM221 503h30v1h-30zM254 503h1v1h-1zM259 503h1v1h-1zM263 503h1v1h-1zM273 503h2v1h-2zM281 503h1v1h-1zM283 503h1v1h-1zM286 503h1v1h-1zM288 503h1v1h-1zM216 504h1v1h-1zM221 504h29v1h-29zM251 504h2v1h-2zM260 504h1v1h-1zM267 504h2v1h-2zM271 504h2v1h-2zM285 504h1v1h-1zM294 504h1v1h-1zM220 505h31v1h-31zM254 505h1v1h-1zM263 505h1v1h-1zM273 505h1v1h-1zM275 505h1v1h-1zM278 505h1v1h-1zM281 505h1v1h-1zM287 505h1v1h-1zM294 505h1v1h-1zM218 506h1v1h-1zM221 506h31v1h-31zM279 506h1v1h-1zM284 506h1v1h-1zM215 507h2v1h-2zM220 507h32v1h-32zM253 507h1v1h-1zM255 507h1v1h-1zM261 507h1v1h-1zM277 507h1v1h-1zM297 507h1v1h-1zM217 508h1v1h-1zM219 508h32v1h-32zM256 508h1v1h-1zM259 508h1v1h-1zM261 508h1v1h-1zM264 508h1v1h-1zM266 508h1v1h-1zM270 508h1v1h-1zM219 509h1v1h-1zM221 509h29v1h-29zM252 509h1v1h-1zM256 509h1v1h-1zM268 509h1v1h-1zM271 509h1v1h-1zM277 509h1v1h-1zM283 509h1v1h-1zM215 510h1v1h-1zM217 510h1v1h-1zM219 510h1v1h-1zM221 510h29v1h-29zM251 510h1v1h-1zM256 510h1v1h-1zM259 510h1v1h-1zM261 510h1v1h-1zM291 510h1v1h-1zM216 511h2v1h-2zM219 511h34v1h-34zM259 511h1v1h-1zM276 511h1v1h-1zM278 511h1v1h-1zM285 511h1v1h-1zM287 511h1v1h-1zM290 511h1v1h-1zM294 511h1v1h-1zM215 512h1v1h-1zM217 512h2v1h-2zM220 512h30v1h-30zM251 512h1v1h-1zM271 512h1v1h-1zM218 513h32v1h-32zM252 513h2v1h-2zM256 513h1v1h-1zM258 513h1v1h-1zM263 513h1v1h-1zM274 513h1v1h-1zM219 514h31v1h-31zM251 514h1v1h-1zM253 514h1v1h-1zM271 514h1v1h-1zM285 514h1v1h-1zM219 515h31v1h-31zM251 515h2v1h-2zM216 516h2v1h-2zM220 516h30v1h-30zM267 516h1v1h-1zM273 516h1v1h-1zM219 517h32v1h-32zM252 517h1v1h-1zM255 517h3v1h-3zM263 517h1v1h-1zM281 517h1v1h-1zM216 518h2v1h-2zM220 518h31v1h-31zM259 518h1v1h-1zM218 519h33v1h-33zM281 519h1v1h-1zM218 520h34v1h-34zM253 520h1v1h-1zM258 520h1v1h-1zM265 520h1v1h-1zM275 520h1v1h-1zM217 521h33v1h-33zM252 521h1v1h-1zM282 521h1v1h-1zM216 522h3v1h-3zM220 522h32v1h-32zM255 522h1v1h-1zM283 522h1v1h-1zM215 523h3v1h-3zM219 523h33v1h-33zM253 523h3v1h-3zM260 523h1v1h-1zM216 524h2v1h-2zM219 524h33v1h-33zM254 524h1v1h-1zM217 525h1v1h-1zM219 525h31v1h-31zM216 526h1v1h-1zM219 526h31v1h-31zM252 526h1v1h-1zM254 526h1v1h-1zM257 526h1v1h-1zM218 527h1v1h-1zM220 527h30v1h-30zM216 528h2v1h-2zM219 528h31v1h-31zM252 528h2v1h-2zM256 528h1v1h-1zM270 528h1v1h-1z" fill="#000"/>
<path d="M79.5 311.2 H182.5 V404 H79.5 Z" fill="none" stroke="#000" stroke-width="1.35"/>
<path d="M76.3 404H79.5M79.5 404V407.6M77.9 397.02H79.5M87.25 404V405.8M77.9 392.93H79.5M91.79 404V405.8M77.9 390.03H79.5M95 404V405.8M77.9 387.78H79.5M97.5 404V405.8M77.9 385.95H79.5M99.54 404V405.8M77.9 384.39H79.5M101.26 404V405.8M77.9 383.05H79.5M102.75 404V405.8M77.9 381.86H79.5M104.07 404V405.8M76.3 380.8H79.5M105.25 404V407.6M77.9 373.82H79.5M113 404V405.8M77.9 369.73H79.5M117.54 404V405.8M77.9 366.83H79.5M120.75 404V405.8M77.9 364.58H79.5M123.25 404V405.8M77.9 362.75H79.5M125.29 404V405.8M77.9 361.19H79.5M127.01 404V405.8M77.9 359.85H79.5M128.5 404V405.8M77.9 358.66H79.5M129.82 404V405.8M76.3 357.6H79.5M131 404V407.6M77.9 350.62H79.5M138.75 404V405.8M77.9 346.53H79.5M143.29 404V405.8M77.9 343.63H79.5M146.5 404V405.8M77.9 341.38H79.5M149 404V405.8M77.9 339.55H79.5M151.04 404V405.8M77.9 337.99H79.5M152.76 404V405.8M77.9 336.65H79.5M154.25 404V405.8M77.9 335.46H79.5M155.57 404V405.8M76.3 334.4H79.5M156.75 404V407.6M77.9 327.42H79.5M164.5 404V405.8M77.9 323.33H79.5M169.04 404V405.8M77.9 320.43H79.5M172.25 404V405.8M77.9 318.18H79.5M174.75 404V405.8M77.9 316.35H79.5M176.79 404V405.8M77.9 314.79H79.5M178.51 404V405.8M77.9 313.45H79.5M180 404V405.8M77.9 312.26H79.5M181.32 404V405.8M76.3 311.2H79.5M182.5 404V407.6" stroke="#000" stroke-width="1.1" fill="none"/>
<text x="74.2" y="407" font-size="7.4" font-weight="bold" text-anchor="end">10<tspan font-size="6.2" dy="-3.2">0</tspan></text>
<text x="81.7" y="416.9" font-size="7.4" font-weight="bold" text-anchor="middle">10<tspan font-size="6.2" dy="-3.2">0</tspan></text>
<text x="74.2" y="384" font-size="7.4" font-weight="bold" text-anchor="end">10<tspan font-size="6.2" dy="-3.2">1</tspan></text>
<text x="106" y="416.9" font-size="7.4" font-weight="bold" text-anchor="middle">10<tspan font-size="6.2" dy="-3.2">1</tspan></text>
<text x="74.2" y="361" font-size="7.4" font-weight="bold" text-anchor="end">10<tspan font-size="6.2" dy="-3.2">2</tspan></text>
<text x="131.1" y="416.9" font-size="7.4" font-weight="bold" text-anchor="middle">10<tspan font-size="6.2" dy="-3.2">2</tspan></text>
<text x="74.2" y="338" font-size="7.4" font-weight="bold" text-anchor="end">10<tspan font-size="6.2" dy="-3.2">3</tspan></text>
<text x="155.8" y="416.9" font-size="7.4" font-weight="bold" text-anchor="middle">10<tspan font-size="6.2" dy="-3.2">3</tspan></text>
<text x="74.2" y="315" font-size="7.4" font-weight="bold" text-anchor="end">10<tspan font-size="6.2" dy="-3.2">4</tspan></text>
<text x="181.5" y="416.9" font-size="7.4" font-weight="bold" text-anchor="middle">10<tspan font-size="6.2" dy="-3.2">4</tspan></text>
<path d="M212.2 310.7 H315.1 V404 H212.2 Z" fill="none" stroke="#000" stroke-width="1.35"/>
<path d="M209 404H212.2M212.2 404V407.6M210.6 396.98H212.2M219.94 404V405.8M210.6 392.87H212.2M224.47 404V405.8M210.6 389.96H212.2M227.69 404V405.8M210.6 387.7H212.2M230.18 404V405.8M210.6 385.85H212.2M232.22 404V405.8M210.6 384.29H212.2M233.94 404V405.8M210.6 382.94H212.2M235.43 404V405.8M210.6 381.74H212.2M236.75 404V405.8M209 380.68H212.2M237.93 404V407.6M210.6 373.65H212.2M245.67 404V405.8M210.6 369.55H212.2M250.2 404V405.8M210.6 366.63H212.2M253.41 404V405.8M210.6 364.37H212.2M255.91 404V405.8M210.6 362.52H212.2M257.94 404V405.8M210.6 360.96H212.2M259.67 404V405.8M210.6 359.61H212.2M261.16 404V405.8M210.6 358.42H212.2M262.47 404V405.8M209 357.35H212.2M263.65 404V407.6M210.6 350.33H212.2M271.39 404V405.8M210.6 346.22H212.2M275.92 404V405.8M210.6 343.31H212.2M279.14 404V405.8M210.6 341.05H212.2M281.63 404V405.8M210.6 339.2H212.2M283.67 404V405.8M210.6 337.64H212.2M285.39 404V405.8M210.6 336.29H212.2M286.88 404V405.8M210.6 335.09H212.2M288.2 404V405.8M209 334.02H212.2M289.38 404V407.6M210.6 327H212.2M297.12 404V405.8M210.6 322.9H212.2M301.65 404V405.8M210.6 319.98H212.2M304.86 404V405.8M210.6 317.72H212.2M307.36 404V405.8M210.6 315.87H212.2M309.39 404V405.8M210.6 314.31H212.2M311.12 404V405.8M210.6 312.96H212.2M312.61 404V405.8M210.6 311.77H212.2M313.92 404V405.8M209 310.7H212.2M315.1 404V407.6" stroke="#000" stroke-width="1.1" fill="none"/>
<text x="207.2" y="404.6" font-size="7.4" font-weight="bold" text-anchor="end">10<tspan font-size="6.2" dy="-3.2">0</tspan></text>
<text x="213.7" y="416.9" font-size="7.4" font-weight="bold" text-anchor="middle">10<tspan font-size="6.2" dy="-3.2">0</tspan></text>
<text x="207.2" y="382" font-size="7.4" font-weight="bold" text-anchor="end">10<tspan font-size="6.2" dy="-3.2">1</tspan></text>
<text x="237.8" y="416.9" font-size="7.4" font-weight="bold" text-anchor="middle">10<tspan font-size="6.2" dy="-3.2">1</tspan></text>
<text x="207.2" y="359.4" font-size="7.4" font-weight="bold" text-anchor="end">10<tspan font-size="6.2" dy="-3.2">2</tspan></text>
<text x="262.9" y="416.9" font-size="7.4" font-weight="bold" text-anchor="middle">10<tspan font-size="6.2" dy="-3.2">2</tspan></text>
<text x="207.2" y="336.8" font-size="7.4" font-weight="bold" text-anchor="end">10<tspan font-size="6.2" dy="-3.2">3</tspan></text>
<text x="287.8" y="416.9" font-size="7.4" font-weight="bold" text-anchor="middle">10<tspan font-size="6.2" dy="-3.2">3</tspan></text>
<text x="207.2" y="314.2" font-size="7.4" font-weight="bold" text-anchor="end">10<tspan font-size="6.2" dy="-3.2">4</tspan></text>
<text x="312.5" y="416.9" font-size="7.4" font-weight="bold" text-anchor="middle">10<tspan font-size="6.2" dy="-3.2">4</tspan></text>
<path d="M82.1 437 H184.1 V529.2 H82.1 Z" fill="none" stroke="#000" stroke-width="1.35"/>
<path d="M78.9 529.2H82.1M82.1 529.2V532.8M80.5 522.26H82.1M89.78 529.2V531M80.5 518.2H82.1M94.27 529.2V531M80.5 515.32H82.1M97.45 529.2V531M80.5 513.09H82.1M99.92 529.2V531M80.5 511.26H82.1M101.94 529.2V531M80.5 509.72H82.1M103.65 529.2V531M80.5 508.38H82.1M105.13 529.2V531M80.5 507.2H82.1M106.43 529.2V531M78.9 506.15H82.1M107.6 529.2V532.8M80.5 499.21H82.1M115.28 529.2V531M80.5 495.15H82.1M119.77 529.2V531M80.5 492.27H82.1M122.95 529.2V531M80.5 490.04H82.1M125.42 529.2V531M80.5 488.21H82.1M127.44 529.2V531M80.5 486.67H82.1M129.15 529.2V531M80.5 485.33H82.1M130.63 529.2V531M80.5 484.15H82.1M131.93 529.2V531M78.9 483.1H82.1M133.1 529.2V532.8M80.5 476.16H82.1M140.78 529.2V531M80.5 472.1H82.1M145.27 529.2V531M80.5 469.22H82.1M148.45 529.2V531M80.5 466.99H82.1M150.92 529.2V531M80.5 465.16H82.1M152.94 529.2V531M80.5 463.62H82.1M154.65 529.2V531M80.5 462.28H82.1M156.13 529.2V531M80.5 461.1H82.1M157.43 529.2V531M78.9 460.05H82.1M158.6 529.2V532.8M80.5 453.11H82.1M166.28 529.2V531M80.5 449.05H82.1M170.77 529.2V531M80.5 446.17H82.1M173.95 529.2V531M80.5 443.94H82.1M176.42 529.2V531M80.5 442.11H82.1M178.44 529.2V531M80.5 440.57H82.1M180.15 529.2V531M80.5 439.23H82.1M181.63 529.2V531M80.5 438.05H82.1M182.93 529.2V531M78.9 437H82.1M184.1 529.2V532.8" stroke="#000" stroke-width="1.1" fill="none"/>
<text x="75" y="531.6" font-size="7.4" font-weight="bold" text-anchor="end">10<tspan font-size="6.2" dy="-3.2">0</tspan></text>
<text x="81.7" y="543.2" font-size="7.4" font-weight="bold" text-anchor="middle">10<tspan font-size="6.2" dy="-3.2">0</tspan></text>
<text x="75" y="509.3" font-size="7.4" font-weight="bold" text-anchor="end">10<tspan font-size="6.2" dy="-3.2">1</tspan></text>
<text x="106" y="543.2" font-size="7.4" font-weight="bold" text-anchor="middle">10<tspan font-size="6.2" dy="-3.2">1</tspan></text>
<text x="75" y="487" font-size="7.4" font-weight="bold" text-anchor="end">10<tspan font-size="6.2" dy="-3.2">2</tspan></text>
<text x="131.1" y="543.2" font-size="7.4" font-weight="bold" text-anchor="middle">10<tspan font-size="6.2" dy="-3.2">2</tspan></text>
<text x="75" y="464.7" font-size="7.4" font-weight="bold" text-anchor="end">10<tspan font-size="6.2" dy="-3.2">3</tspan></text>
<text x="155.8" y="543.2" font-size="7.4" font-weight="bold" text-anchor="middle">10<tspan font-size="6.2" dy="-3.2">3</tspan></text>
<text x="75" y="442.4" font-size="7.4" font-weight="bold" text-anchor="end">10<tspan font-size="6.2" dy="-3.2">4</tspan></text>
<text x="181.5" y="543.2" font-size="7.4" font-weight="bold" text-anchor="middle">10<tspan font-size="6.2" dy="-3.2">4</tspan></text>
<path d="M214 437.9 H315 V530.3 H214 Z" fill="none" stroke="#000" stroke-width="1.35"/>
<path d="M210.8 530.3H214M214 530.3V533.9M212.4 523.35H214M221.6 530.3V532.1M212.4 519.28H214M226.05 530.3V532.1M212.4 516.39H214M229.2 530.3V532.1M212.4 514.15H214M231.65 530.3V532.1M212.4 512.32H214M233.65 530.3V532.1M212.4 510.78H214M235.34 530.3V532.1M212.4 509.44H214M236.8 530.3V532.1M212.4 508.26H214M238.09 530.3V532.1M210.8 507.2H214M239.25 530.3V533.9M212.4 500.25H214M246.85 530.3V532.1M212.4 496.18H214M251.3 530.3V532.1M212.4 493.29H214M254.45 530.3V532.1M212.4 491.05H214M256.9 530.3V532.1M212.4 489.22H214M258.9 530.3V532.1M212.4 487.68H214M260.59 530.3V532.1M212.4 486.34H214M262.05 530.3V532.1M212.4 485.16H214M263.34 530.3V532.1M210.8 484.1H214M264.5 530.3V533.9M212.4 477.15H214M272.1 530.3V532.1M212.4 473.08H214M276.55 530.3V532.1M212.4 470.19H214M279.7 530.3V532.1M212.4 467.95H214M282.15 530.3V532.1M212.4 466.12H214M284.15 530.3V532.1M212.4 464.58H214M285.84 530.3V532.1M212.4 463.24H214M287.3 530.3V532.1M212.4 462.06H214M288.59 530.3V532.1M210.8 461H214M289.75 530.3V533.9M212.4 454.05H214M297.35 530.3V532.1M212.4 449.98H214M301.8 530.3V532.1M212.4 447.09H214M304.95 530.3V532.1M212.4 444.85H214M307.4 530.3V532.1M212.4 443.02H214M309.4 530.3V532.1M212.4 441.48H214M311.09 530.3V532.1M212.4 440.14H214M312.55 530.3V532.1M212.4 438.96H214M313.84 530.3V532.1M210.8 437.9H214M315 530.3V533.9" stroke="#000" stroke-width="1.1" fill="none"/>
<text x="207.4" y="532.5" font-size="7.4" font-weight="bold" text-anchor="end">10<tspan font-size="6.2" dy="-3.2">0</tspan></text>
<text x="213.7" y="543.2" font-size="7.4" font-weight="bold" text-anchor="middle">10<tspan font-size="6.2" dy="-3.2">0</tspan></text>
<text x="207.4" y="509.9" font-size="7.4" font-weight="bold" text-anchor="end">10<tspan font-size="6.2" dy="-3.2">1</tspan></text>
<text x="237.8" y="543.2" font-size="7.4" font-weight="bold" text-anchor="middle">10<tspan font-size="6.2" dy="-3.2">1</tspan></text>
<text x="207.4" y="487.3" font-size="7.4" font-weight="bold" text-anchor="end">10<tspan font-size="6.2" dy="-3.2">2</tspan></text>
<text x="262.9" y="543.2" font-size="7.4" font-weight="bold" text-anchor="middle">10<tspan font-size="6.2" dy="-3.2">2</tspan></text>
<text x="207.4" y="464.7" font-size="7.4" font-weight="bold" text-anchor="end">10<tspan font-size="6.2" dy="-3.2">3</tspan></text>
<text x="287.8" y="543.2" font-size="7.4" font-weight="bold" text-anchor="middle">10<tspan font-size="6.2" dy="-3.2">3</tspan></text>
<text x="207.4" y="442.1" font-size="7.4" font-weight="bold" text-anchor="end">10<tspan font-size="6.2" dy="-3.2">4</tspan></text>
<text x="312.5" y="543.2" font-size="7.4" font-weight="bold" text-anchor="middle">10<tspan font-size="6.2" dy="-3.2">4</tspan></text>
<rect x="126.2" y="325.2" width="46.4" height="65.1" fill="none" stroke="#111" stroke-width="1.2"/>
<rect x="258.2" y="324.2" width="47.2" height="66.3" fill="none" stroke="#111" stroke-width="1.2"/>
<rect x="127.7" y="451" width="46.6" height="65.2" fill="none" stroke="#111" stroke-width="1.2"/>
<rect x="259.1" y="451.3" width="45.7" height="65.7" fill="none" stroke="#111" stroke-width="1.2"/>
<text x="171" y="323.8" font-size="12" text-anchor="end">0.03</text>
<text x="169.2" y="335.8" font-size="8.3" text-anchor="end">R4</text>
<text x="304.2" y="322.7" font-size="12" text-anchor="end">0.16</text>
<text x="301.2" y="336.4" font-size="8.3" text-anchor="end">R4</text>
<text x="172.2" y="448.6" font-size="12" text-anchor="end">0.04</text>
<text x="169.2" y="461.2" font-size="8.3" text-anchor="end">R4</text>
<text x="302.6" y="448.8" font-size="12" text-anchor="end">0.31</text>
<text x="302.2" y="461.5" font-size="8.3" text-anchor="end">R4</text>
<path d="M366.2 404.2 L366.2 377 L367 386 L368.5 397.7 L373 398.2 L373.8 394.6 L384 394.6 L384.6 396.9 L386.9 397.7 L388.5 391.5 L390 390.8 L391.5 393.1 L393.8 387.7 L396.9 381.5 L398.5 376.9 L399.2 373.8 L402.3 373.8 L403.8 376.9 L405.4 371.5 L406.9 366.9 L408.5 366.9 L409.2 363.1 L410.5 353.1 L413.1 353.1 L413.8 363.1 L415.7 376.9 L416.9 370.8 L418.5 365.4 L420.3 365.4 L422.3 373.8 L424.6 381.5 L426.9 390 L430 390.8 L432.3 393.1 L434.6 394.6 L436.9 394.6 L438.5 397.7 L440 398.5 L446.2 398.5 L447.7 400.5 L449 398.5 L450.8 398.5 L451.5 402.3 L452.3 404.2 L507.9 404.2 L509.6 395 L511.3 394 L512.7 399 L513 404.2Z" fill="#676767" stroke="none"/>
<path d="M366.2 404.2 L366.2 377 L367 386 L368.5 397.7 L373 398.2 L373.8 394.6 L384 394.6 L384.6 396.9 L386.9 397.7 L388.5 391.5 L390 390.8 L391.5 393.1 L393.8 387.7 L396.9 381.5 L398.5 376.9 L399.2 373.8 L402.3 373.8 L403.8 376.9 L405.4 371.5 L406.9 366.9 L408.5 366.9 L409.2 363.1 L410.5 353.1 L413.1 353.1 L413.8 363.1 L415.7 376.9 L416.9 370.8 L418.5 365.4 L420.3 365.4 L422.3 373.8 L424.6 381.5 L426.9 390 L430 390.8 L432.3 393.1 L434.6 394.6 L436.9 394.6 L438.5 397.7 L440 398.5 L446.2 398.5 L447.7 400.5 L449 398.5 L450.8 398.5 L451.5 402.3 L452.3 404.2 L507.9 404.2 L509.6 395 L511.3 394 L512.7 399 L513 404.2" fill="none" stroke="#000" stroke-width="1.9" stroke-linejoin="miter"/>
<path d="M366.9 528 L366.9 497.6 L367.8 507.2 L368.8 522.7 L380 523.1 L382.3 519.2 L385.4 514.6 L390.8 514.3 L392.3 511.5 L395.4 503.8 L396.9 499.2 L400 495.4 L401.5 493.8 L403.1 486.9 L404.6 477.7 L406.2 474.6 L407.7 472.3 L409.2 462.3 L410.8 462.3 L412.3 466.9 L413.1 470 L414.6 466.2 L416.2 467.7 L417.7 465.4 L419.2 466.9 L420.8 470.8 L422.3 486.9 L423.8 486.9 L426.2 486.2 L428.5 485.4 L430.8 481.5 L432.3 483.8 L434.6 490 L436.2 494.6 L437.7 490.8 L439.2 482.3 L440.3 485.4 L441.5 494.6 L444.6 494.6 L447.7 499.2 L449.2 506.9 L450.8 513.1 L453.8 519.2 L456.9 522.3 L459.4 527.5 L507.5 528 L509.4 518.8 L510.5 521 L510.8 528Z" fill="#676767" stroke="none"/>
<path d="M366.9 528 L366.9 497.6 L367.8 507.2 L368.8 522.7 L380 523.1 L382.3 519.2 L385.4 514.6 L390.8 514.3 L392.3 511.5 L395.4 503.8 L396.9 499.2 L400 495.4 L401.5 493.8 L403.1 486.9 L404.6 477.7 L406.2 474.6 L407.7 472.3 L409.2 462.3 L410.8 462.3 L412.3 466.9 L413.1 470 L414.6 466.2 L416.2 467.7 L417.7 465.4 L419.2 466.9 L420.8 470.8 L422.3 486.9 L423.8 486.9 L426.2 486.2 L428.5 485.4 L430.8 481.5 L432.3 483.8 L434.6 490 L436.2 494.6 L437.7 490.8 L439.2 482.3 L440.3 485.4 L441.5 494.6 L444.6 494.6 L447.7 499.2 L449.2 506.9 L450.8 513.1 L453.8 519.2 L456.9 522.3 L459.4 527.5 L507.5 528 L509.4 518.8 L510.5 521 L510.8 528" fill="none" stroke="#000" stroke-width="1.9" stroke-linejoin="miter"/>
<path d="M365.2 404.2 V318.8 H513.5 V404.2 H365.2" fill="none" stroke="#000" stroke-width="1.6"/>
<path d="M360.8 404.1H365.2M363 399.91H365.2M363 395.72H365.2M363 391.53H365.2M363 387.34H365.2M360.8 383.15H365.2M363 378.96H365.2M363 374.77H365.2M363 370.58H365.2M363 366.39H365.2M360.8 362.2H365.2M363 358.01H365.2M363 353.82H365.2M363 349.63H365.2M363 345.44H365.2M360.8 341.25H365.2M363 337.06H365.2M363 332.87H365.2M363 328.68H365.2M363 324.49H365.2M360.8 320.3H365.2M366.2 404.2V409.2M377.22 404.2V407.2M383.66 404.2V407.2M388.24 404.2V407.2M391.78 404.2V407.2M394.68 404.2V407.2M397.13 404.2V407.2M399.25 404.2V407.2M401.13 404.2V407.2M402.8 404.2V409.2M413.82 404.2V407.2M420.26 404.2V407.2M424.84 404.2V407.2M428.38 404.2V407.2M431.28 404.2V407.2M433.73 404.2V407.2M435.85 404.2V407.2M437.73 404.2V407.2M439.4 404.2V409.2M450.42 404.2V407.2M456.86 404.2V407.2M461.44 404.2V407.2M464.98 404.2V407.2M467.88 404.2V407.2M470.33 404.2V407.2M472.45 404.2V407.2M474.33 404.2V407.2M476 404.2V409.2M487.02 404.2V407.2M493.46 404.2V407.2M498.04 404.2V407.2M501.58 404.2V407.2M504.48 404.2V407.2M506.93 404.2V407.2M509.05 404.2V407.2M510.93 404.2V407.2M512.6 404.2V409.2" stroke="#000" stroke-width="1.25" fill="none"/>
<text x="357.9" y="406.7" font-size="7.3" font-weight="bold" text-anchor="end">0</text>
<text x="357.9" y="385.75" font-size="7.3" font-weight="bold" text-anchor="end">5</text>
<text x="357.9" y="364.8" font-size="7.3" font-weight="bold" text-anchor="end">10</text>
<text x="357.9" y="343.85" font-size="7.3" font-weight="bold" text-anchor="end">15</text>
<text x="357.9" y="322.9" font-size="7.3" font-weight="bold" text-anchor="end">20</text>
<text x="365.3" y="419.2" font-size="7.4" font-weight="bold" text-anchor="middle">10<tspan font-size="6.2" dy="-3.2">0</tspan></text>
<text x="401.9" y="419.2" font-size="7.4" font-weight="bold" text-anchor="middle">10<tspan font-size="6.2" dy="-3.2">1</tspan></text>
<text x="438.5" y="419.2" font-size="7.4" font-weight="bold" text-anchor="middle">10<tspan font-size="6.2" dy="-3.2">2</tspan></text>
<text x="475.1" y="419.2" font-size="7.4" font-weight="bold" text-anchor="middle">10<tspan font-size="6.2" dy="-3.2">3</tspan></text>
<text x="511.7" y="419.2" font-size="7.4" font-weight="bold" text-anchor="middle">10<tspan font-size="6.2" dy="-3.2">4</tspan></text>
<path d="M366.5 528 V445.8 H510.8 V528 H366.5" fill="none" stroke="#000" stroke-width="1.6"/>
<path d="M362.1 527.9H366.5M364.3 523.88H366.5M364.3 519.85H366.5M364.3 515.82H366.5M364.3 511.8H366.5M362.1 507.77H366.5M364.3 503.75H366.5M364.3 499.72H366.5M364.3 495.7H366.5M364.3 491.67H366.5M362.1 487.65H366.5M364.3 483.62H366.5M364.3 479.6H366.5M364.3 475.57H366.5M364.3 471.55H366.5M362.1 467.52H366.5M364.3 463.5H366.5M364.3 459.47H366.5M364.3 455.45H366.5M364.3 451.42H366.5M362.1 447.4H366.5M366.5 528V533M377.25 528V531M383.53 528V531M387.99 528V531M391.45 528V531M394.28 528V531M396.67 528V531M398.74 528V531M400.57 528V531M402.2 528V533M412.95 528V531M419.23 528V531M423.69 528V531M427.15 528V531M429.98 528V531M432.37 528V531M434.44 528V531M436.27 528V531M437.9 528V533M448.65 528V531M454.93 528V531M459.39 528V531M462.85 528V531M465.68 528V531M468.07 528V531M470.14 528V531M471.97 528V531M473.6 528V533M484.35 528V531M490.63 528V531M495.09 528V531M498.55 528V531M501.38 528V531M503.77 528V531M505.84 528V531M507.67 528V531M509.3 528V533" stroke="#000" stroke-width="1.25" fill="none"/>
<text x="359.2" y="530.5" font-size="7.3" font-weight="bold" text-anchor="end">0</text>
<text x="359.2" y="510.38" font-size="7.3" font-weight="bold" text-anchor="end">5</text>
<text x="359.2" y="490.25" font-size="7.3" font-weight="bold" text-anchor="end">10</text>
<text x="359.2" y="470.12" font-size="7.3" font-weight="bold" text-anchor="end">15</text>
<text x="359.2" y="450" font-size="7.3" font-weight="bold" text-anchor="end">20</text>
<text x="365.6" y="543" font-size="7.4" font-weight="bold" text-anchor="middle">10<tspan font-size="6.2" dy="-3.2">0</tspan></text>
<text x="401.3" y="543" font-size="7.4" font-weight="bold" text-anchor="middle">10<tspan font-size="6.2" dy="-3.2">1</tspan></text>
<text x="437" y="543" font-size="7.4" font-weight="bold" text-anchor="middle">10<tspan font-size="6.2" dy="-3.2">2</tspan></text>
<text x="472.7" y="543" font-size="7.4" font-weight="bold" text-anchor="middle">10<tspan font-size="6.2" dy="-3.2">3</tspan></text>
<text x="508.4" y="543" font-size="7.4" font-weight="bold" text-anchor="middle">10<tspan font-size="6.2" dy="-3.2">4</tspan></text>
<path d="M429 329.2 V351.3 M429 343.2 H513.5" stroke="#000" stroke-width="1.5" fill="none"/>
<path d="M428.1 459.2 V478.5 M428.1 468.9 H510.8" stroke="#000" stroke-width="1.5" fill="none"/>
<text x="509.2" y="332.7" font-size="12" text-anchor="end">12.1</text>
<text x="508" y="459.2" font-size="12" text-anchor="end">32.3</text>
<text x="490.6" y="354.4" font-size="8.3" text-anchor="end">M1</text>
<text x="490.4" y="481.2" font-size="8.3" text-anchor="end">M1</text>
</svg></body></html>
